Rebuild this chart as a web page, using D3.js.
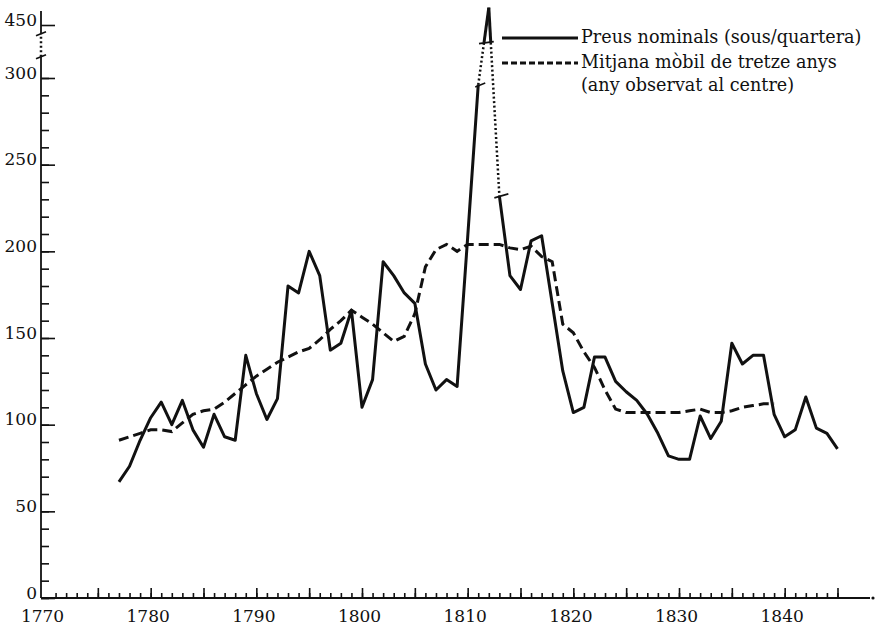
<!DOCTYPE html>
<html lang="ca">
<head>
<meta charset="UTF-8">
<title>Preus nominals</title>
<style>
  * { margin: 0; }
  body { background: #fff; }
  svg { display: block; }
  text { font-family: "DejaVu Serif", serif; font-size: 17px; fill: #111; }
  .legend text { font-size: 17.6px; }
  .axis line { stroke: #111; stroke-width: 1.6; }
  .axis path { display: none; }
  .price { fill: none; stroke: #111; stroke-width: 3; stroke-linejoin: round; }
  .avg { fill: none; stroke: #111; stroke-width: 3; stroke-dasharray: 10,5; }
  .dots { fill: none; stroke: #111; stroke-width: 2.5; stroke-dasharray: 2,2.5; }
</style>
</head>
<body>
<div id="chart"></div>
<script src="https://cdnjs.cloudflare.com/ajax/libs/d3/7.8.5/d3.min.js"></script>
<script>
// nominal prices (sous/quartera), 1777-1845
const priceStart = 1777;
const prices = [67, 76, 91,
  104, 113, 100, 114, 97, 87, 106, 93, 91, 140,
  118, 103, 115, 180, 176, 200, 186, 143, 147, 166,
  110, 126, 194, 186, 176, 170, 135, 120, 126, 122,
  208, 296, 460, 232, 186, 178, 206, 209, 170, 131,
  107, 110, 139, 139, 125, 119, 114, 106, 95, 82,
  80, 80, 105, 92, 102, 147, 135, 140, 140, 106,
  93, 97, 116, 98, 95, 86];

// 13-year centred moving average, 1777-1839
const avgStart = 1777;
const avg = [91, 93, 95,
  97, 97, 96, 101, 106, 108, 109, 113, 118, 123,
  128, 132, 136, 139, 142, 144, 149, 155, 160, 166,
  162, 158, 153, 148, 151, 164, 191, 201, 204, 200,
  204, 204, 204, 204, 202, 201, 203, 197, 194, 158,
  153, 142, 133, 120, 109, 107, 107, 107, 107, 107,
  107, 108, 109, 107, 107, 108, 110, 111, 112, 112];

const yMinor = d3.range(0, 301, 10);
const yMajor = [0, 50, 100, 150, 200, 250, 300, 450];
const xDecades = [1770, 1780, 1790, 1800, 1810, 1820, 1830, 1840];
const peakYear = 1812;
const breakLevel = 400;   // where the peak lines go dotted
const axisBreak = [360, 425];

const legendItems = [
  { label: 'Preus nominals (sous/quartera)', cls: 'price' },
  { label: 'Mitjana mòbil de tretze anys', cls: 'avg' }
];
const legendNote = '(any observat al centre)';

const width = 879, height = 629;

const svg = d3.select('#chart')
  .append('svg')
  .attr('width', width)
  .attr('height', height);

const x = d3.scaleLinear().domain([1770, 1845]).range([45, 837.5]);
// broken axis: 300-450 compressed
const y = d3.scaleLinear().domain([0, 300, 450, 500]).range([598, 78, 25, -62]);
const x0 = 41;

const priceData = prices.map((v, i) => ({ year: priceStart + i, v: v }));
const avgData = avg.map((v, i) => ({ year: avgStart + i, v: v }));

// x axis
svg.append('line')
  .attr('x1', x0).attr('x2', 870)
  .attr('y1', y(0)).attr('y2', y(0))
  .attr('stroke', '#111').attr('stroke-width', 1.8);
svg.append('circle')
  .attr('cx', 873).attr('cy', y(0)).attr('r', 1.6).attr('fill', '#111');

svg.append('g')
  .attr('class', 'axis')
  .attr('transform', `translate(0,${y(0)})`)
  .call(d3.axisBottom(x).tickValues(d3.range(1771, 1846)).tickSize(-5).tickFormat(''));

svg.append('g')
  .attr('class', 'axis')
  .attr('transform', `translate(0,${y(0)})`)
  .call(d3.axisBottom(x).tickValues(d3.range(1775, 1846, 5)).tickSize(-10).tickFormat(''));

svg.append('g')
  .attr('class', 'axis')
  .attr('transform', `translate(-3,${y(0)})`)
  .call(d3.axisBottom(x).tickValues(xDecades).tickSize(0).tickPadding(12).tickFormat(d3.format('d')))
  .call(g => g.selectAll('text').attr('font-family', null).attr('font-size', null));

// y axis
svg.append('g')
  .attr('class', 'axis')
  .attr('transform', `translate(${x0},0)`)
  .call(d3.axisLeft(y).tickValues(yMinor).tickSize(-8).tickFormat(''));

svg.append('g')
  .attr('class', 'axis')
  .attr('transform', `translate(${x0},0)`)
  .call(d3.axisLeft(y).tickValues(yMajor).tickSize(-14).tickPadding(4).tickFormat(d3.format('d')))
  .call(g => g.selectAll('text').attr('dy', '0').attr('font-family', null).attr('font-size', null));

svg.append('line')
  .attr('x1', x0).attr('x2', x0)
  .attr('y1', y(0)).attr('y2', y(axisBreak[0]))
  .attr('stroke', '#111').attr('stroke-width', 1.8);
svg.append('line')
  .attr('class', 'dots')
  .attr('x1', x0).attr('x2', x0)
  .attr('y1', y(axisBreak[0])).attr('y2', y(axisBreak[1]))
  .attr('stroke-width', 1.6);
svg.append('line')
  .attr('x1', x0).attr('x2', x0)
  .attr('y1', y(axisBreak[1])).attr('y2', y(458))
  .attr('stroke', '#111').attr('stroke-width', 1.8);

function breakMark(px, py, w) {
  svg.append('line')
    .attr('x1', px - w / 2).attr('y1', py + 2)
    .attr('x2', px + w / 2).attr('y2', py - 2)
    .attr('stroke', '#111').attr('stroke-width', 1.6);
}
axisBreak.forEach(v => breakMark(x0, y(v), 10));

// lines
const line = d3.line().x(d => x(d.year)).y(d => y(d.v));

svg.append('path')
  .datum(avgData)
  .attr('class', 'avg')
  .attr('d', line);

const before = priceData.filter(d => d.year <= peakYear - 1);
const after = priceData.filter(d => d.year >= peakYear + 1);
svg.append('path').datum(before).attr('class', 'price').attr('d', line);
svg.append('path').datum(after).attr('class', 'price').attr('d', line);

const pt = yr => {
  const d = priceData.find(p => p.year === yr);
  return [x(d.year), y(d.v)];
};
const lerp = (a, b, t) => [a[0] + (b[0] - a[0]) * t, a[1] + (b[1] - a[1]) * t];
const p11 = pt(peakYear - 1), p12 = pt(peakYear), p13 = pt(peakYear + 1);
const yb = y(breakLevel);
const pA = lerp(p11, p12, (p11[1] - yb) / (p11[1] - p12[1]));
const pB = lerp(p12, p13, (yb - p12[1]) / (p13[1] - p12[1]));

const seg = (a, b, cls) => svg.append('path')
  .attr('class', cls)
  .attr('d', d3.line()([a, b]));
seg(p11, pA, 'dots');
seg(pA, p12, 'price').attr('stroke-width', 2);
seg(p12, pB, 'price').attr('stroke-width', 2);
seg(pB, p13, 'dots');

breakMark(p11[0] + 2, p11[1], 10);
svg.append('line')
  .attr('x1', pA[0] - 5).attr('x2', pB[0] + 3)
  .attr('y1', yb + 1).attr('y2', yb - 1)
  .attr('stroke', '#111').attr('stroke-width', 1.6);
breakMark(p13[0] + 2, p13[1], 14);

// legend
const legend = svg.append('g').attr('class', 'legend').attr('transform', 'translate(502,0)');
legendItems.forEach((item, i) => {
  const ly = 38 + i * 25;
  legend.append('line')
    .attr('class', item.cls)
    .attr('x1', 0).attr('x2', 76)
    .attr('y1', ly).attr('y2', ly)
    .attr('stroke-width', 2)
    .style('stroke-dasharray', i ? '6,3' : null);
  legend.append('text')
    .attr('x', 79).attr('y', ly + 5)
    .text(item.label);
});
legend.append('text')
  .attr('x', 79).attr('y', 91)
  .text(legendNote);
</script>
</body>
</html>
